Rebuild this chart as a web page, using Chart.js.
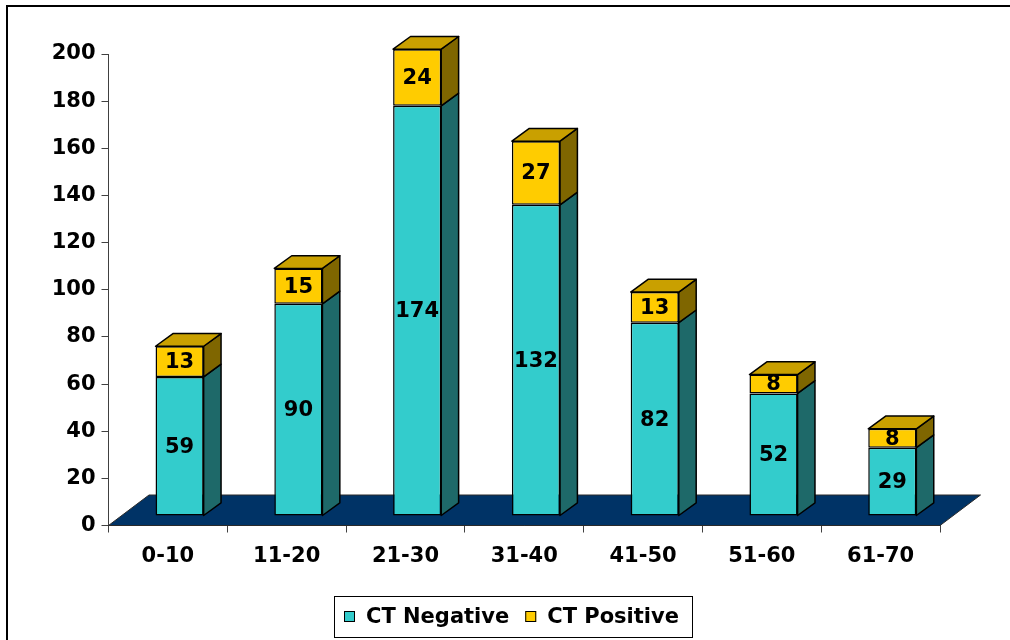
<!DOCTYPE html>
<html>
<head>
<meta charset="utf-8">
<script src="https://cdn.jsdelivr.net/npm/chart.js@4.4.1/dist/chart.umd.min.js"></script>
<style>
  html, body { margin: 0; padding: 0; background: #ffffff; }
  #wrap { width: 1010px; height: 640px; position: relative; }
</style>
</head>
<body>
<div id="wrap"><canvas id="c" width="1010" height="640"></canvas></div>
<script>
// Age groups and case counts
const ageGroups  = ['0-10', '11-20', '21-30', '31-40', '41-50', '51-60', '61-70'];
const ctNegative = [59, 90, 174, 132, 82, 52, 29];
const ctPositive = [13, 15, 24, 27, 13, 8, 8];
const seriesNames = ['CT Negative', 'CT Positive'];
const yMin = 0, yMax = 200, yStep = 20;

// Face colours: front, side, top
const palette = [
  { front: '#33CCCC', side: '#1E6969', top: '#2AA3A3' },
  { front: '#FFCC00', side: '#7F6600', top: '#C9A000' }
];

// Pseudo-3D geometry (pixels)
const PLANE_DX = 11.7, PLANE_DY = -9.5;   // bars stand inside the floor
const DEPTH_DX = 17.4, DEPTH_DY = -12.7;  // bar depth
const FLOOR_DX = 40.5, FLOOR_DY = -30.5;  // floor depth
const FONT = 'DejaVu Sans, Verdana, sans-serif';
const FONT_SIZE = 21;

const threeD = {
  id: 'threeD',
  beforeDatasetsDraw(chart) {
    const { ctx, scales: { x, y } } = chart;
    const y0 = y.getPixelForValue(0);
    ctx.save();
    ctx.beginPath();
    ctx.moveTo(x.left, y0);
    ctx.lineTo(x.left + FLOOR_DX, y0 + FLOOR_DY);
    ctx.lineTo(x.right + FLOOR_DX, y0 + FLOOR_DY);
    ctx.lineTo(x.right, y0);
    ctx.closePath();
    ctx.fillStyle = '#003366';
    ctx.fill();
    ctx.strokeStyle = '#2a2a2a';
    ctx.lineWidth = 1;
    ctx.stroke();
    ctx.restore();
    // the bars themselves are drawn on the shifted plane
    ctx.save();
    ctx.translate(PLANE_DX, PLANE_DY);
  },
  afterDatasetsDraw(chart) {
    const ctx = chart.ctx;
    const last = chart.data.datasets.length - 1;
    ctx.lineWidth = 1.5;
    ctx.strokeStyle = '#000000';
    ctx.lineJoin = 'round';
    chart.data.datasets.forEach((ds, di) => {
      const meta = chart.getDatasetMeta(di);
      meta.data.forEach((bar) => {
        const p = bar.getProps(['x', 'y', 'base', 'width'], true);
        const l = p.x - p.width / 2, r = p.x + p.width / 2;
        // side face
        ctx.beginPath();
        ctx.moveTo(r, p.y);
        ctx.lineTo(r + DEPTH_DX, p.y + DEPTH_DY);
        ctx.lineTo(r + DEPTH_DX, p.base + DEPTH_DY);
        ctx.lineTo(r, p.base);
        ctx.closePath();
        ctx.fillStyle = palette[di].side;
        ctx.fill();
        ctx.stroke();
        // top face of the upper segment
        if (di === last) {
          ctx.beginPath();
          ctx.moveTo(l, p.y);
          ctx.lineTo(l + DEPTH_DX, p.y + DEPTH_DY);
          ctx.lineTo(r + DEPTH_DX, p.y + DEPTH_DY);
          ctx.lineTo(r, p.y);
          ctx.closePath();
          ctx.fillStyle = palette[di].top;
          ctx.fill();
          ctx.stroke();
        }
      });
    });
    // value labels in the middle of each segment
    ctx.fillStyle = '#000000';
    ctx.font = 'bold ' + FONT_SIZE + 'px ' + FONT;
    ctx.textAlign = 'center';
    ctx.textBaseline = 'middle';
    chart.data.datasets.forEach((ds, di) => {
      const meta = chart.getDatasetMeta(di);
      meta.data.forEach((bar, i) => {
        const p = bar.getProps(['x', 'y', 'base'], true);
        ctx.fillText(String(ds.data[i]), p.x, (p.y + p.base) / 2 + 1);
      });
    });
    ctx.restore();
  },
  afterDraw(chart) {
    const ctx = chart.ctx;
    ctx.save();
    // outer frame
    ctx.strokeStyle = '#000000';
    ctx.lineWidth = 2;
    ctx.strokeRect(7, 6, 1020, 650);
    // legend
    const boxX = 334, boxY = 596, boxW = 358, boxH = 41;
    ctx.fillStyle = '#ffffff';
    ctx.fillRect(boxX, boxY, boxW, boxH);
    ctx.lineWidth = 1;
    ctx.strokeRect(boxX + 0.5, boxY + 0.5, boxW, boxH);
    ctx.font = 'bold ' + FONT_SIZE + 'px ' + FONT;
    ctx.textAlign = 'left';
    ctx.textBaseline = 'middle';
    const cy = boxY + boxH / 2;
    let xPos = boxX + 10;
    chart.data.datasets.forEach((ds, di) => {
      ctx.fillStyle = palette[di].front;
      ctx.fillRect(xPos, cy - 5.5, 11, 11);
      ctx.strokeStyle = '#000000';
      ctx.strokeRect(xPos + 0.5, cy - 5.5 + 0.5, 10, 10);
      ctx.fillStyle = '#000000';
      ctx.fillText(ds.label, xPos + 22, cy + 1);
      xPos += 22 + ctx.measureText(ds.label).width + 16;
    });
    ctx.restore();
  }
};

const datasets = [ctNegative, ctPositive].map((values, i) => ({
  label: seriesNames[i],
  data: values,
  backgroundColor: palette[i].front,
  borderColor: '#000000',
  borderWidth: 1.5,
  borderSkipped: false,
  categoryPercentage: 1.0,
  barPercentage: 0.405,
  clip: false
}));

const axisColor = '#404040';
const tickFont = { family: FONT, size: FONT_SIZE, weight: 'bold' };

new Chart(document.getElementById('c'), {
  type: 'bar',
  data: { labels: ageGroups, datasets },
  options: {
    responsive: false,
    animation: false,
    events: [],
    layout: { padding: { left: 0, right: 70, top: 54, bottom: 0 } },
    plugins: { legend: { display: false }, tooltip: { enabled: false } },
    scales: {
      x: {
        stacked: true,
        grid: { drawOnChartArea: false, drawTicks: true, tickLength: 7, color: axisColor, offset: true },
        border: { color: axisColor, width: 1 },
        ticks: { color: '#000000', font: tickFont, padding: 11, maxRotation: 0 },
        afterFit(scale) { scale.height = 114.5; }
      },
      y: {
        stacked: true,
        min: yMin, max: yMax,
        grid: { drawOnChartArea: false, drawTicks: true, tickLength: 7, color: axisColor },
        border: { color: axisColor, width: 1 },
        ticks: { stepSize: yStep, color: '#000000', font: tickFont, padding: 6 },
        afterFit(scale) { scale.width = 108.5; }
      }
    }
  },
  plugins: [threeD]
});
</script>
</body>
</html>
